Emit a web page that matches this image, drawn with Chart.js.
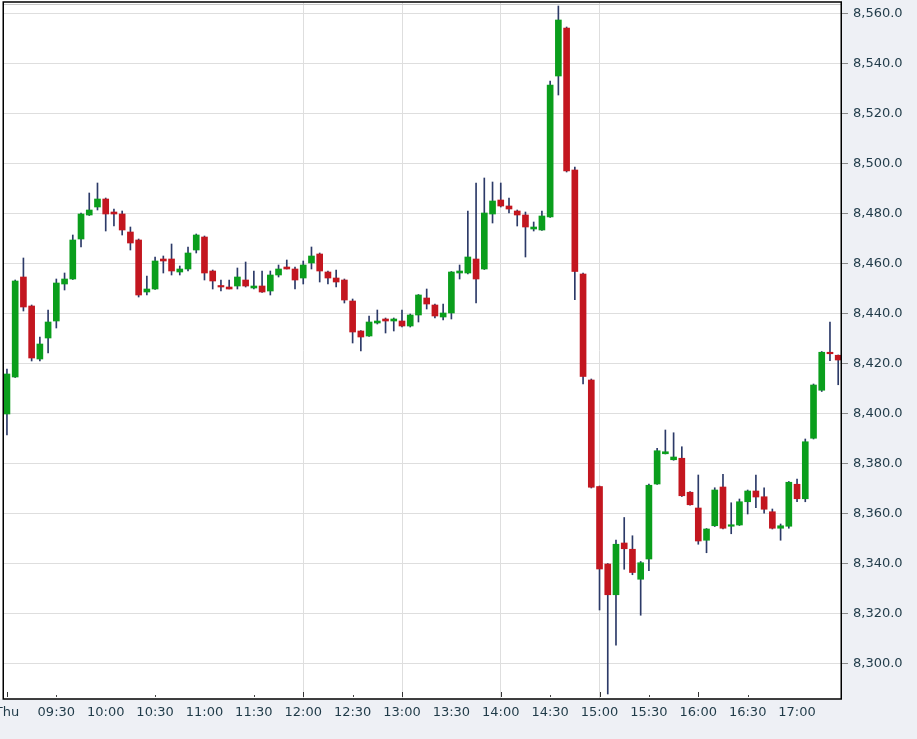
<!DOCTYPE html>
<html>
<head>
<meta charset="utf-8">
<script src="https://cdn.jsdelivr.net/npm/chart.js@4.4.1/dist/chart.umd.min.js"></script>
<style>
html,body{margin:0;padding:0;background:#eef0f5;}
#wrap{position:relative;width:917px;height:739px;}
</style>
</head>
<body>
<div id="wrap"><canvas id="c" width="917" height="739"></canvas></div>
<script>
// ---- Data (5-minute candles) ----
const times = ['09:00','09:05','09:10','09:15','09:20','09:25','09:30','09:35','09:40','09:45','09:50','09:55',
'10:00','10:05','10:10','10:15','10:20','10:25','10:30','10:35','10:40','10:45','10:50','10:55',
'11:00','11:05','11:10','11:15','11:20','11:25','11:30','11:35','11:40','11:45','11:50','11:55',
'12:00','12:05','12:10','12:15','12:20','12:25','12:30','12:35','12:40','12:45','12:50','12:55',
'13:00','13:05','13:10','13:15','13:20','13:25','13:30','13:35','13:40','13:45','13:50','13:55',
'14:00','14:05','14:10','14:15','14:20','14:25','14:30','14:35','14:40','14:45','14:50','14:55',
'15:00','15:05','15:10','15:15','15:20','15:25','15:30','15:35','15:40','15:45','15:50','15:55',
'16:00','16:05','16:10','16:15','16:20','16:25','16:30','16:35','16:40','16:45','16:50','16:55',
'17:00','17:05','17:10','17:15','17:20','17:25'];

const openVals = [8400,8414.8,8454.8,8443.2,8422,8430.4,8437.2,8452,8454,8470,8479.6,8482.8,
8486,8480.8,8480,8472.8,8469.6,8448.8,8450,8462,8462,8456.8,8458,8465.6,
8470.8,8457.2,8451.2,8450.8,8451.2,8453.6,8450.4,8451.2,8449.2,8455.6,8458.8,8458,
8454.4,8460.4,8464,8456.8,8454.4,8453.6,8445.2,8433.2,8431.2,8436.4,8438,8437.2,
8437.2,8435.2,8439.6,8446.4,8443.6,8438.8,8440.4,8456.4,8456.4,8462,8458,8480,
8485.6,8483.2,8481.2,8479.6,8474,8473.6,8478.8,8535.2,8554.4,8497.6,8456,8413.6,
8371,8340,8327.7,8348.4,8345.9,8333.9,8342,8372,8384.1,8381.7,8382.3,8368.7,
8362.4,8349.5,8355.3,8370.8,8355.1,8355.6,8364.9,8369.2,8366.9,8360.9,8354.3,8355.1,
8371.9,8366.1,8390.3,8409.5,8424.7,8423.5];

const highVals = [8418,8453.6,8462.4,8443.6,8430.8,8441.6,8454,8456.4,8471.6,8480.4,8488.4,8492.4,
8486.4,8482,8481.2,8474.8,8470,8455.2,8462.8,8463.2,8468,8459.2,8466.8,8472,
8471.2,8457.6,8453.6,8453.6,8458.4,8460.8,8457.2,8457.2,8457.2,8459.6,8461.6,8458.8,
8461.2,8466.8,8464.4,8457.2,8457.6,8454,8446,8433.4,8439.2,8441.6,8438.4,8438.4,
8441.6,8440,8447.8,8450,8444,8444,8457,8459.6,8481.2,8492.4,8494.4,8492.8,
8492.4,8486.4,8481.6,8480.8,8476.8,8481.2,8533.2,8563.2,8554.8,8498.8,8456.4,8414,
8371.2,8340.2,8349.6,8358.6,8351.3,8341,8372,8386.3,8393.6,8392.5,8386.9,8369,
8375.6,8354.2,8370.5,8375.9,8364.5,8366,8369.6,8375.6,8370.5,8362,8356,8373,
8374,8390,8412,8425,8436.8,8423.6];

const lowVals = [8391.6,8414.6,8441.2,8421.2,8421.2,8424.4,8434.4,8449.6,8453.8,8466.8,8479.4,8481.6,
8473.2,8475.2,8471.6,8465.6,8446.8,8447.6,8449.8,8456.4,8455.6,8455.6,8457.2,8464.4,
8453.6,8450,8449.2,8450,8450,8450.8,8450,8448.6,8447.6,8454.8,8458,8450,
8452,8458,8452.8,8452,8450.8,8444.4,8428.4,8425.2,8431,8436,8432.4,8433.2,
8434.8,8434.8,8436.8,8442,8438.4,8437.6,8438,8454,8456,8444.4,8457.8,8476.4,
8482.8,8480.4,8475.2,8462.8,8473.2,8473.4,8478.6,8527.6,8496.8,8445.7,8412,8370.4,
8321.6,8288,8307.5,8337.9,8335.7,8319.5,8337.3,8371.8,8384,8381.5,8367,8363.5,
8347.9,8344.5,8355,8354,8352.1,8355.4,8360,8362.5,8360.3,8354,8349.5,8354.3,
8364.9,8364.9,8390,8409,8421.3,8411.7];

const closeVals = [8416,8453.2,8442.8,8422.4,8428,8436.8,8452.4,8454,8469.6,8480,8481.6,8486,
8480,8480,8473.6,8468.4,8447.6,8450,8461.2,8461.2,8457.2,8458,8464.4,8471.6,
8456.4,8453.2,8450.8,8450,8454.8,8451.2,8451.2,8448.8,8455.6,8458,8458,8453.6,
8459.6,8463.2,8457.2,8454.4,8452.8,8445.6,8432.8,8430.8,8436.8,8437.2,8437.2,8438,
8435.2,8439.6,8447.6,8444,8439.2,8440.4,8456.8,8457.2,8462.8,8454,8480.4,8485.2,
8483.2,8482,8479.6,8474.8,8474.8,8479.2,8531.6,8557.6,8497.2,8457,8415,8370.7,
8338,8327.7,8347.9,8346.1,8336.6,8340.5,8371.5,8385.3,8384.9,8382.8,8367.3,8363.7,
8349.2,8354,8369.6,8354.3,8355.5,8364.9,8369.2,8366.8,8361.9,8354.3,8355.3,8372.7,
8366.1,8388.9,8411.6,8424.7,8424.1,8421.6];

// ---- Axis ticks ----
const xTickTimes  = ['09:00','09:30','10:00','10:30','11:00','11:30','12:00','12:30','13:00','13:30','14:00','14:30','15:00','15:30','16:00','16:30','17:00'];
const xTickLabels = ['Thu','09:30','10:00','10:30','11:00','11:30','12:00','12:30','13:00','13:30','14:00','14:30','15:00','15:30','16:00','16:30','17:00'];
const xGridTimes  = ['12:00','13:00','14:00','15:00'];
const yTicks = [8300,8320,8340,8360,8380,8400,8420,8440,8460,8480,8500,8520,8540,8560];

// ---- helpers ----
const toMin = t => { const p = t.split(':'); return (+p[0]) * 60 + (+p[1]); };
const xs = times.map(toMin);
const xTickVals = xTickTimes.map(toMin);
const xGridVals = xGridTimes.map(toMin);

const UP = '#0a9e1c', DOWN = '#c3161f', WICK = '#2c3a68';
const bodyColors = openVals.map((o, i) => closeVals[i] >= o ? UP : DOWN);

const wickData = xs.map((x, i) => ({ x: x, y: [lowVals[i], highVals[i]] }));
const bodyData = xs.map((x, i) => ({ x: x, y: [openVals[i], closeVals[i]] }));

const bgPlugin = {
  id: 'bg',
  beforeDraw(chart) {
    const { ctx, chartArea: a, width, height } = chart;
    ctx.save();
    ctx.fillStyle = '#eef0f5';
    ctx.fillRect(0, 0, width, height);
    ctx.fillStyle = '#ffffff';
    ctx.fillRect(0, 0, a.right, a.bottom);
    ctx.restore();
  },
  afterDraw(chart) {
    const { ctx, chartArea: a } = chart;
    const xs_ = chart.scales.x;
    ctx.save();
    // inner tick marks on x axis
    ctx.strokeStyle = '#333';
    ctx.lineWidth = 1;
    const tall = ['09:00','12:00','13:00','14:00','15:00','16:00'].map(toMin);
    const short = ['09:30','10:30','11:30','12:30','14:30','15:30','16:30'].map(toMin);
    tall.forEach(v => { const px = Math.round(xs_.getPixelForValue(v)) + 0.5; ctx.beginPath(); ctx.moveTo(px, a.bottom - 7); ctx.lineTo(px, a.bottom - 2); ctx.stroke(); });
    ctx.strokeStyle = '#444';
    short.forEach(v => { const px = Math.round(xs_.getPixelForValue(v)) + 0.5; ctx.beginPath(); ctx.moveTo(px, a.bottom - 4); ctx.lineTo(px, a.bottom - 2); ctx.stroke(); });
    // frame
    ctx.strokeStyle = '#c8c8c8';
    ctx.beginPath(); ctx.moveTo(a.left, a.top + 2.5); ctx.lineTo(a.right, a.top + 2.5); ctx.stroke();
    ctx.strokeStyle = '#000';
    ctx.lineWidth = 1.5;
    ctx.strokeRect(a.left + 0.25, a.top, a.right - a.left, a.bottom - a.top);
    ctx.restore();
  }
};

new Chart(document.getElementById('c'), {
  type: 'bar',
  data: {
    datasets: [
      { label: 'wick', data: wickData, backgroundColor: WICK, barThickness: 1, grouped: false, order: 2, borderWidth: 0 },
      { label: 'body', data: bodyData, backgroundColor: bodyColors, barThickness: 6, grouped: false, order: 1, borderWidth: 0, minBarLength: 1.5 }
    ]
  },
  plugins: [bgPlugin],
  options: {
    responsive: false,
    animation: false,
    events: [],
    layout: { padding: { left: 3, top: 2, right: 0, bottom: 0 } },
    plugins: { legend: { display: false }, tooltip: { enabled: false } },
    scales: {
      x: {
        type: 'linear',
        min: 537.6,
        max: 1046.7,
        offset: false,
        grid: {
          offset: false,
          drawTicks: false,
          color: c => (c.tick && xGridVals.includes(c.tick.value)) ? '#dedede' : 'rgba(0,0,0,0)',
          lineWidth: 1
        },
        border: { display: false },
        afterBuildTicks: s => { s.ticks = xTickVals.map(v => ({ value: v })); },
        afterFit: s => { s.height = 40; s.paddingLeft = 0; s.paddingRight = 0; },
        ticks: {
          autoSkip: false,
          maxRotation: 0,
          padding: 6,
          color: '#1f3a48',
          font: { family: 'DejaVu Sans', size: 13 },
          callback: (v) => { const i = xTickVals.indexOf(v); return i >= 0 ? xTickLabels[i] : ''; }
        }
      },
      y: {
        position: 'right',
        min: 8286,
        max: 8564.8,
        grid: { color: '#dedede', tickColor: '#8a8a8a', tickLength: 7, lineWidth: 1 },
        border: { display: false },
        afterBuildTicks: s => { s.ticks = yTicks.map(v => ({ value: v })); },
        afterFit: s => { s.width = 76; s.paddingTop = 0; s.paddingBottom = 0; },
        ticks: {
          padding: 5,
          color: '#1f3a48',
          font: { family: 'DejaVu Sans', size: 13 },
          callback: v => v.toLocaleString('en-US', { minimumFractionDigits: 1, maximumFractionDigits: 1 })
        }
      }
    }
  }
});
</script>
</body>
</html>
